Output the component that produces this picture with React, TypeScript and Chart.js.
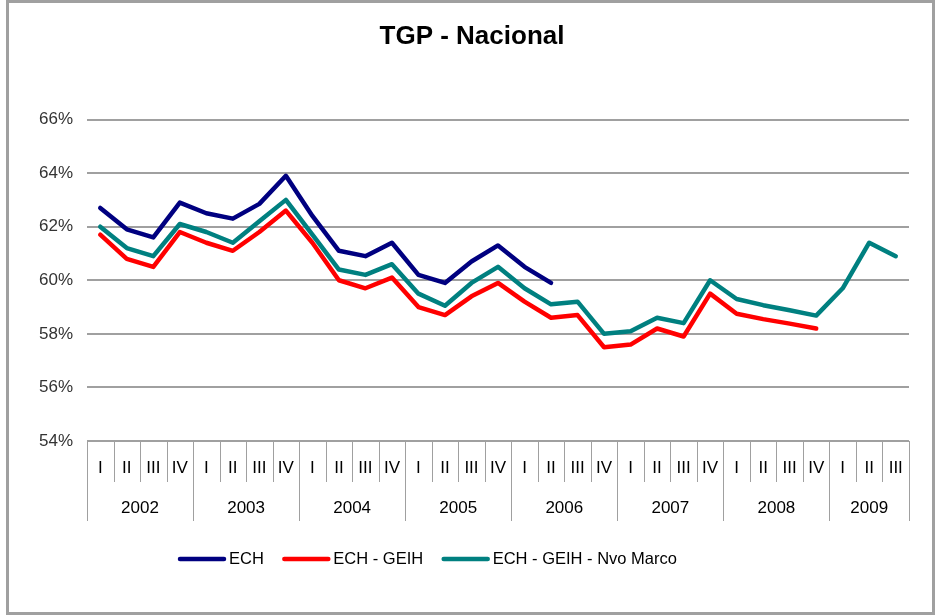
import React, { useEffect, useRef } from 'react';
import { Chart, registerables } from 'chart.js';

Chart.register(...registerables);

const years = ['2002', '2003', '2004', '2005', '2006', '2007', '2008', '2009'];
const quartersPerYear = [4, 4, 4, 4, 4, 4, 4, 3];
const quarterNames = ['I', 'II', 'III', 'IV'];

const categories: string[] = [];
const quarterLabels: string[] = [];
years.forEach((y, yi) => {
  for (let q = 0; q < quartersPerYear[yi]; q++) {
    categories.push(`${y} ${quarterNames[q]}`);
    quarterLabels.push(quarterNames[q]);
  }
});

const yTicks = [54, 56, 58, 60, 62, 64, 66];

const ech = [62.7, 61.9, 61.6, 62.9, 62.5, 62.3, 62.85, 63.9, 62.4, 61.1, 60.9, 61.4, 60.2, 59.9, 60.7, 61.3, 60.5, 59.9];
const echGeih = [61.7, 60.8, 60.5, 61.8, 61.4, 61.1, 61.8, 62.6, 61.4, 60.0, 59.7, 60.1, 59.0, 58.7, 59.4, 59.9, 59.2, 58.6, 58.7, 57.5, 57.6, 58.2, 57.9, 59.5, 58.75, 58.55, 58.38, 58.2];
const echGeihNvo = [62.0, 61.2, 60.9, 62.1, 61.8, 61.4, 62.2, 63.0, 61.7, 60.4, 60.2, 60.6, 59.5, 59.05, 59.9, 60.5, 59.7, 59.1, 59.2, 58.0, 58.1, 58.6, 58.4, 60.0, 59.3, 59.07, 58.88, 58.68, 59.7, 61.4, 60.9];

const seriesNames = ['ECH', 'ECH - GEIH', 'ECH - GEIH - Nvo Marco'];
const seriesColors = ['#000080', '#FF0000', '#008080'];

const FONT = '"Liberation Sans", Arial, sans-serif';

const pad = (arr: number[]) => categories.map((_, i) => (i < arr.length ? arr[i] : null));

const decorPlugin = {
  id: 'decor',
  afterDraw(chart: any) {
    const ctx = chart.ctx as CanvasRenderingContext2D;
    const xs = chart.scales.x;
    const area = chart.chartArea;
    const n = categories.length;
    const bottom = area.bottom;
    ctx.save();

    // Title
    ctx.fillStyle = '#000';
    ctx.font = `bold 26px ${FONT}`;
    ctx.textAlign = 'center';
    ctx.textBaseline = 'middle';
    ctx.fillText('TGP - Nacional', 472, 37);

    // category boundaries
    const bounds: number[] = [];
    for (let i = 0; i <= n; i++) {
      if (i === 0) bounds.push(area.left);
      else if (i === n) bounds.push(area.right);
      else bounds.push((xs.getPixelForValue(i - 1) + xs.getPixelForValue(i)) / 2);
    }
    const yearStarts: number[] = [0];
    quartersPerYear.forEach((q) => yearStarts.push(yearStarts[yearStarts.length - 1] + q));

    ctx.strokeStyle = '#a0a0a0';
    ctx.lineWidth = 1;
    for (let i = 0; i <= n; i++) {
      const isYear = yearStarts.includes(i);
      const x = Math.round(bounds[i]) + 0.5;
      ctx.beginPath();
      ctx.moveTo(x, bottom);
      ctx.lineTo(x, bottom + (isYear ? 80 : 41));
      ctx.stroke();
    }

    ctx.fillStyle = '#000';
    ctx.font = `17px ${FONT}`;
    ctx.textAlign = 'center';
    ctx.textBaseline = 'middle';
    for (let i = 0; i < n; i++) {
      ctx.fillText(quarterLabels[i], xs.getPixelForValue(i), bottom + 27);
    }
    years.forEach((y, yi) => {
      const cx = (bounds[yearStarts[yi]] + bounds[yearStarts[yi + 1]]) / 2;
      ctx.fillText(y, cx, bottom + 67);
    });

    // Legend
    ctx.font = `16.5px ${FONT}`;
    ctx.textAlign = 'left';
    let lx = 178;
    const ly = 559;
    seriesNames.forEach((name, i) => {
      ctx.strokeStyle = seriesColors[i];
      ctx.lineWidth = 4.5;
      ctx.lineCap = 'round';
      ctx.beginPath();
      ctx.moveTo(lx + 2, ly);
      ctx.lineTo(lx + 46, ly);
      ctx.stroke();
      ctx.fillStyle = '#000';
      ctx.fillText(name, lx + 51, ly);
      lx += 51 + ctx.measureText(name).width + 18.5;
    });

    ctx.restore();
  },
};

export default function App() {
  const ref = useRef<HTMLCanvasElement>(null);
  useEffect(() => {
    if (!ref.current) return;
    const data = [ech, echGeih, echGeihNvo];
    const chart = new Chart(ref.current, {
      type: 'line',
      data: {
        labels: categories,
        datasets: seriesNames.map((name, i) => ({
          label: name,
          data: pad(data[i]),
          borderColor: seriesColors[i],
          backgroundColor: seriesColors[i],
          borderWidth: 4.5,
          pointRadius: 0,
          pointHoverRadius: 0,
          tension: 0,
          spanGaps: false,
          borderJoinStyle: 'round',
          borderCapStyle: 'round',
          fill: false,
        })),
      },
      options: {
        animation: false,
        responsive: false,
        events: [],
        layout: { padding: { left: 0, right: 26, top: 119.5, bottom: 174 } },
        plugins: {
          legend: { display: false },
          title: { display: false },
          tooltip: { enabled: false },
        },
        scales: {
          x: {
            type: 'category',
            display: false,
            offset: true,
          },
          y: {
            min: yTicks[0],
            max: yTicks[yTicks.length - 1],
            afterFit: (scale: any) => {
              scale.width = 87;
            },
            afterBuildTicks: (scale: any) => {
              scale.ticks = yTicks.map((v) => ({ value: v }));
            },
            ticks: {
              padding: 14,
              color: '#333',
              font: { family: FONT, size: 17 },
              callback: (v: any) => `${v}%`,
            },
            grid: {
              color: '#a0a0a0',
              lineWidth: 2,
              drawTicks: false,
            },
            border: { display: false },
          },
        },
      },
      plugins: [decorPlugin],
    } as any);
    return () => chart.destroy();
  }, []);

  return (
    <div style={{ position: 'fixed', left: 0, top: 0, width: 935, height: 615, background: '#fff' }}>
      <canvas ref={ref} width={935} height={615} style={{ position: 'absolute', left: 0, top: 0 }} />
      <div
        style={{
          position: 'absolute',
          left: 6,
          top: 0,
          width: 929,
          height: 615,
          border: '3px solid #a0a0a0',
          boxSizing: 'border-box',
          pointerEvents: 'none',
        }}
      />
    </div>
  );
}
